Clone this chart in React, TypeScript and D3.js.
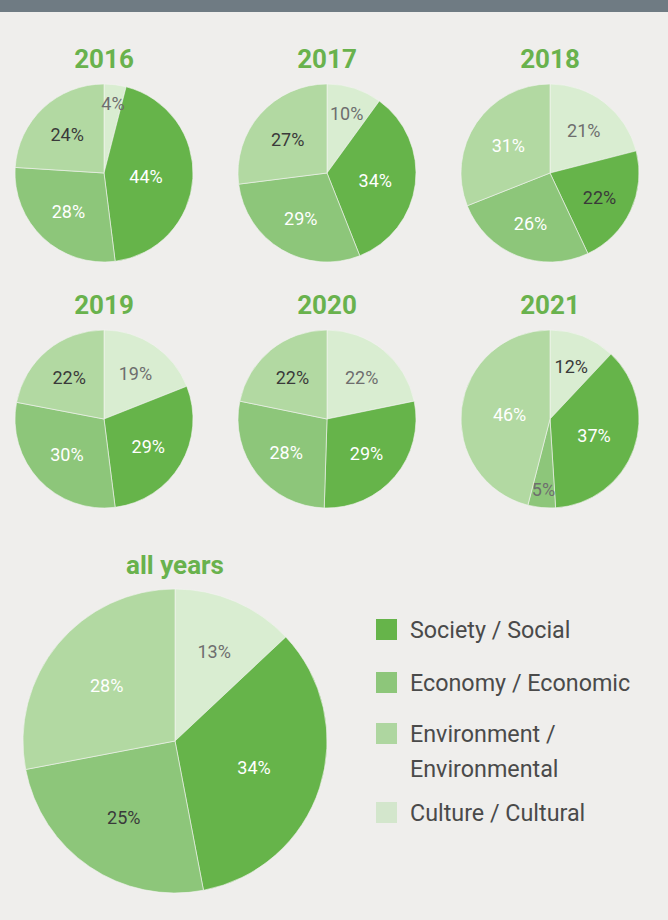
import React from "react";
import * as d3 from "d3";

// ---------- data ----------
const years = ["2016", "2017", "2018", "2019", "2020", "2021"];
// slice order, clockwise from 12 o'clock
const sliceKeys = ["culture", "society", "economy", "environment"];
const culture = [4, 10, 21, 19, 22, 12];
const society = [44, 34, 22, 29, 29, 37];
const economy = [28, 29, 26, 30, 28, 5];
const environment = [24, 27, 31, 22, 22, 46];
const allYearsLabel = "all years";
const allYearsValues = [13, 34, 25, 28]; // culture, society, economy, environment

const legendKeys = ["society", "economy", "environment", "culture"];
const legendLabels = [["Society / Social"], ["Economy / Economic"], ["Environment /", "Environmental"], ["Culture / Cultural"]];

// ---------- styles ----------
const W = 668;
const H = 920;
const BG = "#efeeec";
const BAR = "#6f7b83";
const TITLE_GREEN = "#69b24d";
const colors: Record<string, string> = {
  society: "#66b44a",
  economy: "#8dc67a",
  environment: "#b2d9a2",
  culture: "#d9edd1",
};
const legendColors: Record<string, string> = {
  society: "#66b44a",
  economy: "#8dc67a",
  environment: "#aed6a0",
  culture: "#d3e6cc",
};
const tones: Record<string, string> = { w: "#ffffff", d: "#3a3a3a", m: "#6e6e6e" };
// label tone per slice (culture, society, economy, environment)
const yearTones = [
  ["m", "w", "w", "d"],
  ["m", "w", "w", "d"],
  ["m", "d", "w", "w"],
  ["m", "w", "w", "d"],
  ["m", "w", "w", "d"],
  ["d", "w", "m", "w"],
];
const allTones = ["m", "w", "d", "w"];

const FONT = "Roboto, 'DejaVu Sans', sans-serif";

const colX = d3.scalePoint<number>().domain([0, 1, 2]).range([104, 550]);
const rowY = d3.scalePoint<number>().domain([0, 1]).range([173, 419]);

type PieProps = { cx: number; cy: number; r: number; values: number[]; toneKeys: string[]; title: string; titleY: number };

function Pie({ cx, cy, r, values, toneKeys, title, titleY }: PieProps) {
  const pie = d3.pie<number>().sort(null).value((d) => d);
  const arcs = pie(values);
  const total = d3.sum(values);
  const arc = d3.arc<d3.PieArcDatum<number>>().innerRadius(0).outerRadius(r);
  return (
    <g>
      <text x={cx} y={titleY} textAnchor="middle" fontFamily={FONT} fontWeight={700} fontSize={26} fill={TITLE_GREEN}>
        {title}
      </text>
      <g transform={`translate(${cx},${cy})`}>
        {arcs.map((a, i) => (
          <path key={i} d={arc(a) || ""} fill={colors[sliceKeys[i]]} stroke="#f4f4f2" strokeWidth={0.6} />
        ))}
        {arcs.map((a, i) => {
          const p = a.value / total;
          const mid = (a.startAngle + a.endAngle) / 2;
          const half = (a.endAngle - a.startAngle) / 2;
          let k = (2 * Math.sin(half)) / (3 * half);
          if (p < 0.11) k = 0.8 - (p - 0.04) * 1.4;
          const x = Math.sin(mid) * r * k;
          const y = -Math.cos(mid) * r * k + 1;
          return (
            <text
              key={"t" + i}
              x={x}
              y={y}
              dy="0.36em"
              textAnchor="middle"
              fontFamily={FONT}
              fontWeight={400}
              fontSize={18}
              fill={tones[toneKeys[i]]}
            >
              {`${a.value}%`}
            </text>
          );
        })}
      </g>
    </g>
  );
}

export default function App() {
  const legendY = d3.scaleOrdinal<string, number>().domain(legendKeys).range([640, 693, 744, 823]);
  return (
    <svg
      width={W}
      height={H}
      viewBox={`0 0 ${W} ${H}`}
      style={{ position: "absolute", left: 0, top: 0, display: "block" }}
    >
      <rect x={0} y={0} width={W} height={H} fill={BG} />
      <rect x={0} y={0} width={W} height={12} fill={BAR} />
      {years.map((yr, i) => {
        const col = i % 3;
        const row = Math.floor(i / 3);
        const cy = rowY(row) as number;
        return (
          <Pie
            key={yr}
            cx={colX(col) as number}
            cy={cy}
            r={89}
            values={[culture[i], society[i], economy[i], environment[i]]}
            toneKeys={yearTones[i]}
            title={yr}
            titleY={cy - 105}
          />
        );
      })}
      <Pie cx={175} cy={741} r={152} values={allYearsValues} toneKeys={allTones} title={allYearsLabel} titleY={574} />
      <g>
        {legendKeys.map((k, i) => {
          const base = legendY(k);
          return (
            <g key={k}>
              <rect x={376} y={base - 21} width={21} height={21} fill={legendColors[k]} />
              {legendLabels[i].map((line, j) => (
                <text
                  key={j}
                  x={410}
                  y={base - 2 + j * 35}
                  fontFamily={FONT}
                  fontSize={23.3}
                  fill="#4a4a4a"
                >
                  {line}
                </text>
              ))}
            </g>
          );
        })}
      </g>
    </svg>
  );
}
